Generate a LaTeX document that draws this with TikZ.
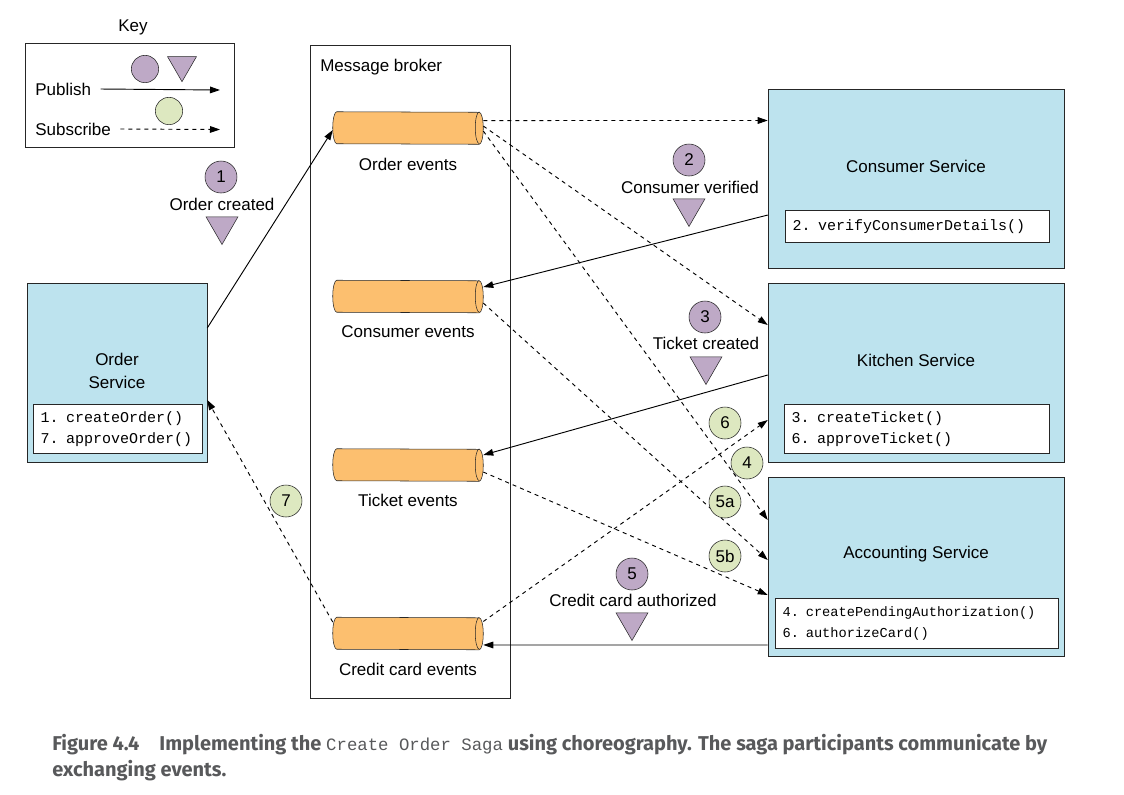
\documentclass[tikz,border=0pt]{standalone}
\usepackage{fontspec}
\setmainfont{Liberation Sans}
\setmonofont{Liberation Mono}
\newfontfamily\capfont{Fira Sans}
\usetikzlibrary{arrows.meta,shapes.geometric}
\definecolor{svcblue}{HTML}{BDE3EE}
\definecolor{evorange}{HTML}{FCBF6F}
\definecolor{pubpurple}{HTML}{BEA9C6}
\definecolor{subgreen}{HTML}{DDE8C0}
\definecolor{capgray}{HTML}{58595B}

\begin{document}
\begin{tikzpicture}[x=0.75pt, y=-0.75pt,
    every node/.style={font=\fontsize{12.75}{15.3}\selectfont},
    service/.style={draw=black!85, fill=svcblue, minimum width=222pt, minimum height=134.25pt, inner sep=0},
    method/.style={draw=black!85, fill=white, anchor=north west, align=left, inner xsep=5.5pt, inner ysep=0,
        font=\fontsize{11.25}{15.75}\selectfont\ttfamily},
    topic/.style={minimum width=112.5pt, minimum height=24pt, inner sep=0},
    pub/.style={circle, draw=black!85, fill=pubpurple, minimum size=24pt, inner sep=0},
    sub/.style={circle, draw=black!85, fill=subgreen, minimum size=24pt, inner sep=0},
    evt/.style={regular polygon, regular polygon sides=3, shape border rotate=180, draw=black!85, fill=pubpurple,
        minimum size=27.7pt, inner sep=0},
    publish/.style={-{Triangle[length=7.5pt,width=5pt]}, line width=0.7pt},
    subscribe/.style={publish, dashed}]
    \useasboundingbox (0,0) rectangle (1124,794);

    % key
    \node (keylabel) at (133,27) {Key};
    \node[draw=black!85, minimum width=157pt, minimum height=78pt, inner sep=0] (key) at (129.5,95) {};
    \node[pub, minimum size=20.5pt] (keypub) at (145,69) {};
    \node[evt, minimum size=25pt] (keyevt) at (182,65) {};
    \node[sub, minimum size=20.5pt] (keysub) at (169,111) {};
    \node[anchor=west, inner sep=0] (pubtxt) at (35,89) {Publish};
    \node[anchor=west, inner sep=0] (subtxt) at (35,129) {Subscribe};
    \coordinate (pubend) at (220,90);
    \coordinate (subend) at (220,129.5);
    \draw[publish] ([xshift=7pt]pubtxt.east) -- (pubend);
    \draw[subscribe] ([xshift=7pt]subtxt.east) -- (subend);

    % message broker
    \node[draw=black!85, minimum width=150pt, minimum height=489.75pt, inner sep=0] (broker) at (410,371.5) {};
    \node[anchor=west, inner sep=0] (brokertxt) at (320,67) {Message broker};
    \node[topic] (oe) at (408,128) {};
    \node[topic] (ce) at (408,296.5) {};
    \node[topic] (te) at (408,465) {};
    \node[topic] (cce) at (408,633.5) {};
    % cilindros
    \foreach \t in {oe,ce,te,cce} {
        \draw[black!85, fill=evorange] ([xshift=3pt]\t.north west) arc (90:270:3pt and 12pt)
            -- ([xshift=-3pt]\t.south east) arc (-90:90:3pt and 12pt) -- cycle;
        \draw[black!85] ([xshift=-3pt]\t.north east) arc (90:270:3pt and 12pt);
    }
    \node (oetxt) at (408,164) {Order events};
    \node (cetxt) at (408,332) {Consumer events};
    \node (tetxt) at (408,500) {Ticket events};
    \node (ccetxt) at (408,669) {Credit card events};

    % services
    \node[service, minimum width=135pt] (os) at (117,372.5) {};
    \node[align=center, font=\fontsize{12.75}{17.25}\selectfont] (ostxt) at (117,370.5) {Order\\Service};
    \node[method, text width=115.75pt, minimum height=36.75pt] (osm) at (33,404) {1. createOrder()\\7. approveOrder()};

    \node[service] (cs) at (916,178.5) {};
    \node (cstxt) at (916,166) {Consumer Service};
    \node[method, text width=187pt, minimum height=24pt] (csm) at (785,210) {2. verifyConsumerDetails()};

    \node[service] (ks) at (916,373) {};
    \node (kstxt) at (916,360) {Kitchen Service};
    \node[method, text width=187.75pt, minimum height=36.75pt] (ksm) at (784,404) {3. createTicket()\\6. approveTicket()};

    \node[service] (as) at (916,567) {};
    \node (astxt) at (916,554) {Accounting Service};
    \node[method, text width=201pt, minimum height=37.5pt, font=\fontsize{10.25}{15.75}\selectfont\ttfamily] (asm) at (775,598)
        {4. createPendingAuthorization()\\6. authorizeCard()};

    % publicar
    \draw[publish] ([yshift=33.4pt]os.east) -- ([yshift=-1.5pt]oe.west);
    \draw[publish] ([yshift=-27.4pt]cs.west) -- ([yshift=7.1pt]ce.east);
    \draw[publish] ([yshift=-1.5pt]ks.west) -- ([yshift=7.5pt]te.east);
    \draw[publish] ([yshift=-58.5pt]as.west) -- ([yshift=-8.6pt]cce.east);

    % subscrever
    \draw[subscribe] ([yshift=5.6pt]oe.east) -- ([yshift=43.5pt]cs.west);
    \draw[subscribe] ([yshift=1.5pt]oe.east) -- ([yshift=36pt]ks.west);
    \draw[subscribe] ([yshift=-2.25pt]oe.east) -- ([yshift=35.25pt]as.west);
    \draw[subscribe] ([yshift=-4.9pt]ce.east) -- ([yshift=5.25pt]as.west);
    \draw[subscribe] ([yshift=-5.25pt]te.east) -- ([yshift=-21pt]as.west);
    \draw[subscribe] ([yshift=9pt]cce.east) -- ([yshift=-35.25pt]ks.west);
    \draw[subscribe] ([yshift=8.6pt]cce.west) -- ([yshift=-20.6pt]os.east);

    % eventos publicados
    \node[pub] (p1) at (221,177) {1};
    \node (p1txt) at (222,204) {Order created};
    \node[evt] (e1) at (222,226) {};
    \node[pub] (p2) at (689,160) {2};
    \node (p2txt) at (690,187) {Consumer verified};
    \node[evt] (e2) at (689,208) {};
    \node[pub] (p3) at (705,317) {3};
    \node (p3txt) at (706,343) {Ticket created};
    \node[evt] (e3) at (706,366) {};
    \node[pub] (p5) at (632,574) {5};
    \node (p5txt) at (633,600) {Credit card authorized};
    \node[evt] (e5) at (632,622) {};

    % eventos subscritos
    \node[sub] (s6) at (725,423) {6};
    \node[sub] (s4) at (747,463) {4};
    \node[sub] (s5a) at (725,502) {5a};
    \node[sub] (s5b) at (725,556) {5b};
    \node[sub] (s7) at (286,501) {7};

    % legenda
    \node[anchor=north west, align=left, inner sep=0, text=capgray, font=\capfont\fontsize{15}{19.5}\selectfont\bfseries] (caption) at (52,734)
        {Figure 4.4\quad Implementing the {\ttfamily\mdseries\fontsize{13}{19.5}\selectfont Create Order Saga} using choreography. The saga participants communicate by\\exchanging events.};
\end{tikzpicture}
\end{document}
